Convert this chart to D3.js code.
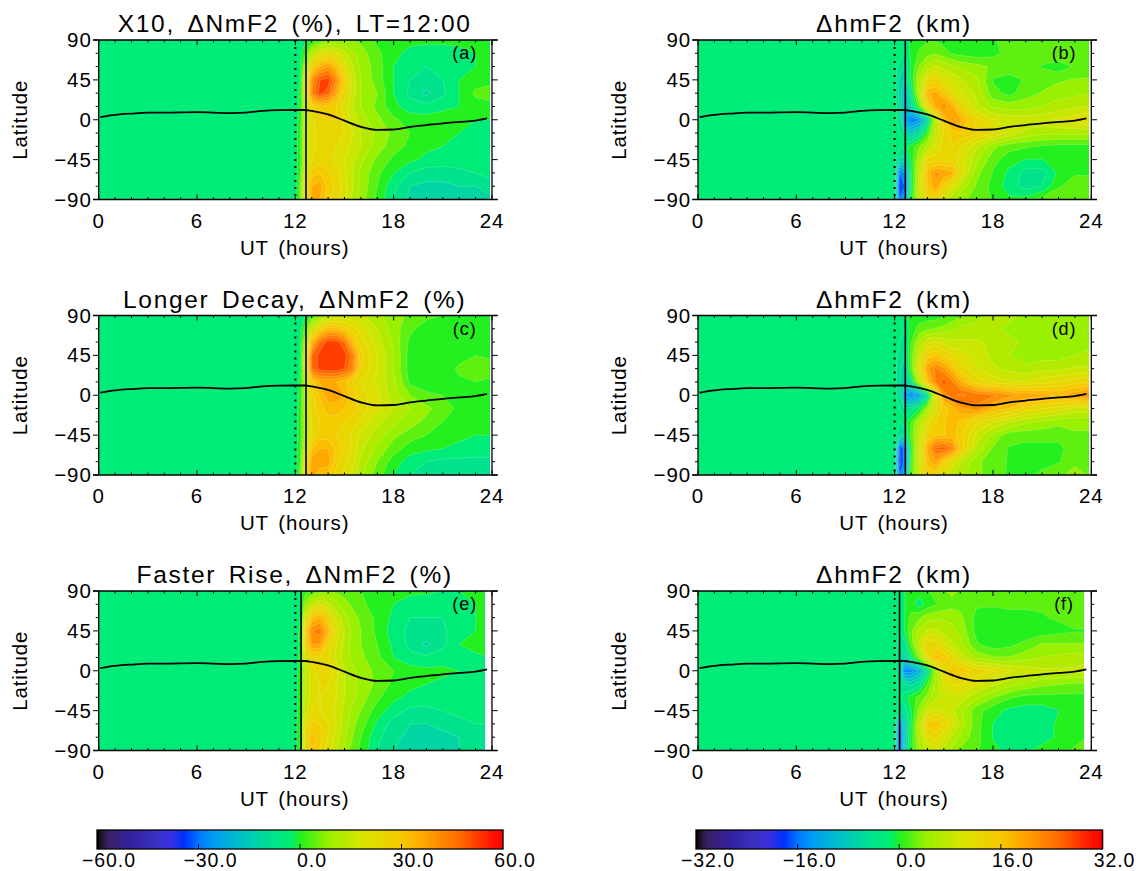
<!DOCTYPE html>
<html lang="en">
	<head>
		<meta charset="utf-8">
		<title>X10 flare NmF2 and hmF2 response</title>
		<script type="text/javascript" src="https://cdn.jsdelivr.net/npm/d3@7"></script>
		<style type="text/css">
			body { margin: 0; background: #fff; }
			text { font-family: "Liberation Sans", sans-serif; font-size: 20.5px; fill: #000; letter-spacing: 0.9px; word-spacing: 3px; }
		</style>
	</head>
	<body>
		<script type="text/javascript">

			//Width and height
			var w = 1136;
			var h = 871;

			// grid columns (UT hours) and rows (latitude, north first)
			var utGrid = [0, 12, 12.3, 12.6, 13, 13.5, 14, 14.5, 15, 15.5, 16, 17, 18, 19, 20, 21, 22, 23, 24];
			var latGrid = [90, 75, 60, 45, 30, 15, 0, -15, -30, -45, -60, -75, -90];

			// panel a, dNmF2 (%)
			var nmf2X10 = [
				[0,0,0,1,4,7,9,10,10,10,9,5,3,3,3,3,3,3,3],
				[0,0,1,6,16,23,25,23,19,15,12,7,3,1,0,0,1,2,3],
				[0,0,2,14,30,38,42,35,25,18,13,8,2,-1,-2,-1,1,2,3],
				[0,0,2,20,44,54,56,46,31,20,14,8,2,-2,-3,-2,2,4,4],
				[0,0,3,22,46,56,52,40,28,20,14,10,2,-3,-7,-3,2,7,9],
				[0,0,3,18,30,34,33,30,24,18,14,9,3,0,-1,1,2,4,4],
				[0,0,4,18,25,28,30,30,25,20,16,11,7,4,4,4,3,2,2],
				[0,0,5,18,25,27,29,28,26,22,18,13,9,6,4,3,2,1,1],
				[0,0,5,18,25,27,27,26,24,21,18,12,8,5,3,2,1,1,1],
				[0,0,5,18,26,28,27,25,22,19,15,9,5,3,1,0,0,0,0],
				[0,0,6,22,32,34,31,28,23,18,13,7,2,-2,-4,-4,-3,-2,-1],
				[0,0,8,26,38,40,33,29,24,18,13,6,-1,-6,-7,-7,-6,-6,-3],
				[0,0,8,26,38,38,31,27,23,17,12,5,-2,-7,-8,-8,-7,-8,-7]
			];

			// panel b, dhmF2 (km)
			var hmf2X10 = [
				[0,0,0,0,1.5,2.5,3,3,2.5,1.5,1.5,2,3,4,4.5,5,5,4.5,4],
				[0,0,0,-1,1.5,3.5,4.5,5,4,3,2.5,2,2.5,4,4.5,4.5,5,4.5,4],
				[0,0,-2,-3,1.5,5.5,8.5,10,9,8,7,6,5,5,4.5,3,2,3.5,4.5],
				[0,0,-4,-5,1.5,8,14,15,13,11,10,8,3,2,3.5,4.5,5,5.5,5.5],
				[0,0,-4,-8,-1,9,20,21,18,14,12,9,4,2.5,4.5,5.5,6.5,7,7.5],
				[0,0,-3,-8,-4,4,15,21,24,21,16,10,7,6.5,6.5,7.5,8.5,9,10],
				[0,0,-2,-10,-14,-12,-4,9,18,23,21,15,12,11,11,11,12,13,14],
				[0,0,-1,-3,-6,-3,3,10,14,17,18,16,14,11,9,8,8,8,8],
				[0,0,-1,0,2,5,8,12,15,16,14,10,6,4,3.5,3,2.5,2.5,2.5],
				[0,0,-4,-4,1.5,8,15,15,15,15,13,8,4,2,1,1,2,2.5,2.5],
				[0,0,-14,-12,0.5,10,19,23,22,21,14,6,3,0.5,-2,-2,1.5,3,3],
				[0,0,-16,-14,0.5,11,18,22,17,13,9,5,2.5,0,-2,-1,3,4,4],
				[0,0,-14,-10,1.5,10,15,15,11,8,6,4.5,3,1.5,2,4,5,5,4]
			];

			// panel c, dNmF2 (%)
			var nmf2Decay = [
				[0,0,0,2,6,11,15,18,19,19,19,15,12,9,7,6,5,4,3],
				[0,0,1,8,20,30,36,36,32,28,24,18,12,7,4,4,4,4,4],
				[0,0,2,14,36,50,56,56,50,36,28,20,13,5,3,3,4,4,4],
				[0,0,2,20,50,56,57,57,56,48,31,22,14,4,2,3,4,6,5],
				[0,0,2,20,50,56,57,57,54,46,30,22,14,4,2,3,7,10,8],
				[0,0,3,16,32,38,38,38,35,30,26,21,15,5,3,3,5,6,5],
				[0,0,3,16,28,35,40,41,38,32,28,23,16,10,7,6,5,4,4],
				[0,0,4,16,28,32,36,36,34,32,28,23,18,14,11,8,5,4,4],
				[0,0,4,16,26,30,32,32,30,28,25,19,15,12,9,6,4,3,3],
				[0,0,4,16,26,32,32,30,28,25,21,16,11,8,6,4,3,2,2],
				[0,0,5,18,34,38,38,33,29,25,19,13,8,4,3,2,1,0,0],
				[0,0,6,24,40,40,41,31,27,23,17,10,4,0,-2,-3,-3,-3,-3],
				[0,0,8,28,40,36,33,29,25,21,15,8,2,-2,-5,-6,-6,-6,-6]
			];

			// panel d, dhmF2 (km)
			var hmf2Decay = [
				[0,0,0,0,2,2,2,2,3,4,5,7,8,8,7,6.5,7,7,6],
				[0,0,0,-1,2,4,5,5.5,6,7,8,8,8,7,6,5.5,6,7,6],
				[0,0,-1,-2,3,8,11,12,11,10,10,10,9,8,7,6,5.5,6,7],
				[0,0,-2,-3,4,11,17,18,16,14,13,11,9,7.5,6.5,6.5,6.5,7.5,8],
				[0,0,-3,-4,4,13,22,25,23,19,15,12,10,9,8,9,9,10,10],
				[0,0,-3,-5,-1,9,18,25,28,25,21,15,13,12,12,13,14,15,16],
				[0,0,-3,-10,-13,-11,-3,12,23,26,27,26,25,23,22,21,20,22,25],
				[0,0,-1,-3,-2,1,7,13,17,19,22,24,20,18,15,14,13,11,11],
				[0,0,-1,0,3,8,13,16,18,19,18,14,12,10,8,7,6,6,6],
				[0,0,-3,-3,4,10,16,18,18,19,17,11,7,4,4,4,4,5,5],
				[0,0,-16,-13,2,11,21,27,28,25,18,9,5,3,2.5,2.5,2.5,4.5,5],
				[0,0,-17,-13,3,11,19,22,17,13,10,6,4,3,2,2,3,5,5],
				[0,0,-14,-10,4,11,16,16,13,10,8,6,4,3,2.5,4,5,6,5]
			];

			// panel e, dNmF2 (%)
			var nmf2Rise = [
				[0,0,0,4,7,9,10,9,8,7,6,4,3,3,3,2,2,2,2],
				[0,0,1,12,18,22,19,15,12,9,7,4,2,0,-1,-1,1,2,2],
				[0,0,2,22,34,38,30,21,15,12,9,5,1,-2,-2,-2,0,2,2],
				[0,0,3,30,46,48,37,24,18,13,10,5,0,-3,-3,-3,1,2,4],
				[0,0,3,30,42,42,30,22,17,12,10,6,1,-3,-7,-3,2,4,8],
				[0,0,3,22,28,30,26,21,16,13,11,7,2,-1,-1,0,1,1,2],
				[0,0,4,18,24,28,28,24,18,15,12,9,6,4,3,3,2,1,1],
				[0,0,5,18,24,26,26,22,18,15,13,9,5,3,2,1,1,0,0],
				[0,0,5,18,24,26,24,22,18,15,12,7,3,1,0,0,0,0,0],
				[0,0,5,20,26,26,24,21,17,13,10,4,0,-3,-3,-2,-1,-1,-1],
				[0,0,6,24,32,30,26,22,16,11,8,1,-4,-6,-6,-5,-3,-2,-2],
				[0,0,6,26,36,32,26,20,15,10,6,-1,-5,-7,-7,-7,-6,-4,-3],
				[0,0,6,26,34,30,24,18,13,8,5,-2,-6,-7,-7,-7,-6,-4,-3]
			];

			// panel f, dhmF2 (km)
			var hmf2Rise = [
				[0,0,0,1,3,2,3,4,5,6,5,3.5,4.5,4.5,4.5,4.5,3.5,3.5,3],
				[0,0,0,1,2,0,2,3,4,4.5,4.5,3.5,3.5,4,4,3.5,3.5,3.5,3.5],
				[0,0,-1,1,4,5,6.5,7,7,7,6,2.5,2,2,2,3,3.5,4.5,4.5],
				[0,0,-1,1,5,8,10,10,9,8,7,2.5,1.5,1.5,1.5,2,2.5,3,3],
				[0,0,-2,-2,4,10,16,15,12,10,8,3.5,2,2.5,4,5.5,5.5,5.5,5.5],
				[0,0,-3,-4,0,6,14,19,18,15,11,7,5.5,5.5,6.5,7.5,8,8.5,9],
				[0,0,-4,-13,-13,-9,-2,7,14,18,18,15,14,12,11,10,10,10,11],
				[0,0,-2,-3,-4,-2,3,8,12,14,14,12,10,8.5,7,6,5.5,5,5],
				[0,0,-1,0,2,4,6,9,10,11,11,8,5.5,3.5,2.5,2.5,2.5,2.5,2.5],
				[0,0,-2,-2,1,6,11,12,11,10,8,4,2,0.5,0,0,1,2,2.5],
				[0,0,-14,-6,1,9,17,18,16,13,9,4,1,-1,-1,0,1.5,2,2.5],
				[0,0,-17,-6,2,8,13,15,12,9,7,4,1,-1,-1,0,1.5,2.5,3.5],
				[0,0,-17,-5,2,7,10,11,9,7,5,3.5,1.5,0.5,0.5,2,2.5,3.5,4.5]
			];

			// subsolar latitude curve
			var sunUt = [0.1, 1, 2, 3, 4, 6, 8, 9, 10, 11, 12, 12.6, 13, 14, 15, 16, 17, 18, 19, 20, 21, 22, 23, 23.7];
			var sunLat = [3, 5.5, 7, 8, 8, 8.5, 7.5, 8, 10, 10.8, 11, 11, 10, 6, -1, -8, -11.5, -11, -8, -6, -4, -2.5, -1, 1.5];

			var panelNames = ["a", "b", "c", "d", "e", "f"];
			var panelTitles = ["X10, \u0394NmF2 (%), LT=12:00", "\u0394hmF2 (km)", "Longer Decay, \u0394NmF2 (%)", "\u0394hmF2 (km)", "Faster Rise, \u0394NmF2 (%)", "\u0394hmF2 (km)"];
			var panelValues = [nmf2X10, hmf2X10, nmf2Decay, hmf2Decay, nmf2Rise, hmf2Rise];
			var panelMax = [60, 32, 60, 32, 60, 32];
			var flareUt = [12.65, 12.65, 12.65, 12.65, 12.35, 12.3];
			var dataEnd = [23.85, 23.85, 23.85, 23.85, 23.55, 23.55];

			var utTicks = [0, 6, 12, 18, 24];
			var latTicks = [90, 45, 0, -45, -90];
			var barTicksNm = [-60, -30, 0, 30, 60];
			var barTicksHm = [-32, -16, 0, 16, 32];

			// colour bar stops, fraction of the range
			var stopPos = [-1, -0.985, -0.95, -0.85, -0.72, -0.64, -0.57, -0.5, -0.42, -0.3, -0.15, -0.05, 0, 0.13, 0.3, 0.5, 0.625, 0.79, 0.95, 1];
			var stopCol = ["#000000", "#1a1020", "#3a2060", "#342098", "#3a30c0", "#3a30e0", "#0030ff", "#0078ff", "#00a0f0", "#00c0c8", "#00e090", "#00ee74", "#24f020", "#98f000", "#d8e400", "#f8c800", "#ffa000", "#ff6800", "#ff1000", "#ff0000"];
			var color = d3.scaleLinear().domain(stopPos).range(stopCol);

			//Create SVG element
			var svg = d3.select("body")
						.append("svg")
						.attr("width", w)
						.attr("height", h);

			var colX = [98.7, 698];
			var rowY = [40, 315.5, 591];
			var plotW = 393.3, plotH = 159.5;

			panelNames.forEach(function(name, p) {
				var left = colX[p % 2];
				var top = rowY[Math.floor(p / 2)];
				var right = left + plotW;
				var x = d3.scaleLinear().domain([0, 24]).range([left, right]);
				var y = d3.scaleLinear().domain([-90, 90]).range([top + plotH, top]);
				var g = svg.append("g");

				// grid index to position, d3.contours puts values at cell centres
				var ix = d3.scaleLinear().domain(d3.range(utGrid.length).map(function(i) { return i + 0.5; }))
					.range(utGrid.map(x)).clamp(true);
				var iy = d3.scaleLinear().domain(d3.range(latGrid.length).map(function(i) { return i + 0.5; }))
					.range(latGrid.map(y)).clamp(true);
				var path = d3.geoPath(d3.geoTransform({
					point: function(a, b) { this.stream.point(ix(a), iy(b)); }
				}));

				var max = panelMax[p];
				var step = max / 15;
				var levels = d3.range(-15, 16);
				var contours = d3.contours()
					.size([utGrid.length, latGrid.length])
					.thresholds(levels.map(function(k) { return (k - 0.5) * step; }))
					(d3.merge(panelValues[p]));

				svg.append("clipPath").attr("id", "clip" + name)
					.append("rect")
					.attr("x", left).attr("y", top + 0.8)
					.attr("width", x(dataEnd[p]) - left).attr("height", plotH - 1.2);

				g.append("g").attr("clip-path", "url(#clip" + name + ")")
					.selectAll("path")
					.data(contours)
					.enter()
					.append("path")
					.attr("d", path)
					.style("fill", function(d) { return color((d.value / step - 0.5) / 15); })
					.style("stroke", "rgba(255,255,255,0.3)")
					.style("stroke-width", 0.6);

				function tickLine(x1, y1, x2, y2, width) {
					return g.append("line").attr("x1", x1).attr("y1", y1).attr("x2", x2).attr("y2", y2)
						.style("stroke", "#000").style("stroke-width", width || 1);
				}

				// ticks: x ones point into the box, y ones point out of it
				d3.range(0, 25).forEach(function(t) {
					var len = t % 6 == 0 ? 5 : 2.5;
					tickLine(x(t), top + plotH, x(t), top + plotH - len);
					tickLine(x(t), top, x(t), top + len);
				});
				d3.range(-90, 91, 15).forEach(function(t) {
					var len = t % 45 == 0 ? 5.7 : 3;
					tickLine(left, y(t), left - len, y(t));
					tickLine(right, y(t), right + len, y(t));
				});
				tickLine(left, top, left, top + plotH, 1.3);
				tickLine(right, top, right, top + plotH, 1.3);
				tickLine(left - 5.7, top, right + 5.7, top, 1.3);
				tickLine(left - 5.7, top + plotH, right + 5.7, top + plotH, 1.3);

				g.selectAll(".ut").data(utTicks).enter().append("text")
					.attr("x", x).attr("y", top + plotH + 28).attr("text-anchor", "middle")
					.text(function(d) { return d; });
				g.selectAll(".lat").data(latTicks).enter().append("text")
					.attr("x", left - 7).attr("y", function(d) { return y(d) + 7; }).attr("text-anchor", "end")
					.text(function(d) { return String(d).replace("-", "\u2212"); });

				g.append("text").attr("x", left + 196).attr("y", top + plotH + 55).attr("text-anchor", "middle").text("UT  (hours)");
				g.append("text").attr("transform", "translate(" + (left - 72) + "," + (top + plotH / 2) + ") rotate(-90)")
					.attr("text-anchor", "middle").text("Latitude");
				g.append("text").attr("x", left + 196).attr("y", top - 8).attr("text-anchor", "middle")
					.style("font-size", "24.5px").style("letter-spacing", "1.7px").style("word-spacing", "4px").text(panelTitles[p]);
				g.append("text").attr("x", left + 366).attr("y", top + 19).attr("text-anchor", "middle").style("font-size", "18px").text("(" + name + ")");

				// flare onset and peak
				tickLine(x(flareUt[p]), top, x(flareUt[p]), top + plotH, 1.6);
				g.append("line").attr("x1", x(12)).attr("x2", x(12)).attr("y1", top).attr("y2", top + plotH)
					.style("stroke", "#000").style("stroke-width", 2).style("stroke-dasharray", "2,5");

				var line = d3.line()
					.x(function(d) { return x(d); })
					.y(function(d, i) { return y(sunLat[i]); })
					.curve(d3.curveMonotoneX);
				g.append("path").attr("d", line(sunUt))
					.style("fill", "none").style("stroke", "#000").style("stroke-width", 1.8);
			});

			// colour bars
			function colorBar(left, right, ticks) {
				var top = 830, bottom = 849;
				var max = ticks[ticks.length - 1];
				var bx = d3.scaleLinear().domain([-max, max]).range([left, right]);
				var g = svg.append("g");
				g.selectAll("rect").data(d3.range(0, right - left)).enter().append("rect")
					.attr("x", function(d) { return left + d; }).attr("y", top)
					.attr("width", 1.2).attr("height", bottom - top)
					.style("fill", function(d) { return color(d / (right - left) * 2 - 1); });
				g.append("rect").attr("x", left).attr("y", top).attr("width", right - left).attr("height", bottom - top)
					.style("fill", "none").style("stroke", "#000").style("stroke-width", 1.3);
				ticks.slice(1, 4).forEach(function(t) {
					g.append("line").attr("x1", bx(t)).attr("x2", bx(t)).attr("y1", bottom).attr("y2", bottom - 5).style("stroke", "#000");
				});
				g.selectAll("text").data(ticks).enter().append("text")
					.attr("x", function(d) { return bx(d) + 12; }).attr("y", bottom + 18).attr("text-anchor", "middle")
					.style("font-size", "19.5px")
					.text(function(d) { return d.toFixed(1).replace("-", "\u2212"); });
			}
			colorBar(97, 503, barTicksNm);
			colorBar(696, 1102.5, barTicksHm);

		</script>
	</body>
</html>
